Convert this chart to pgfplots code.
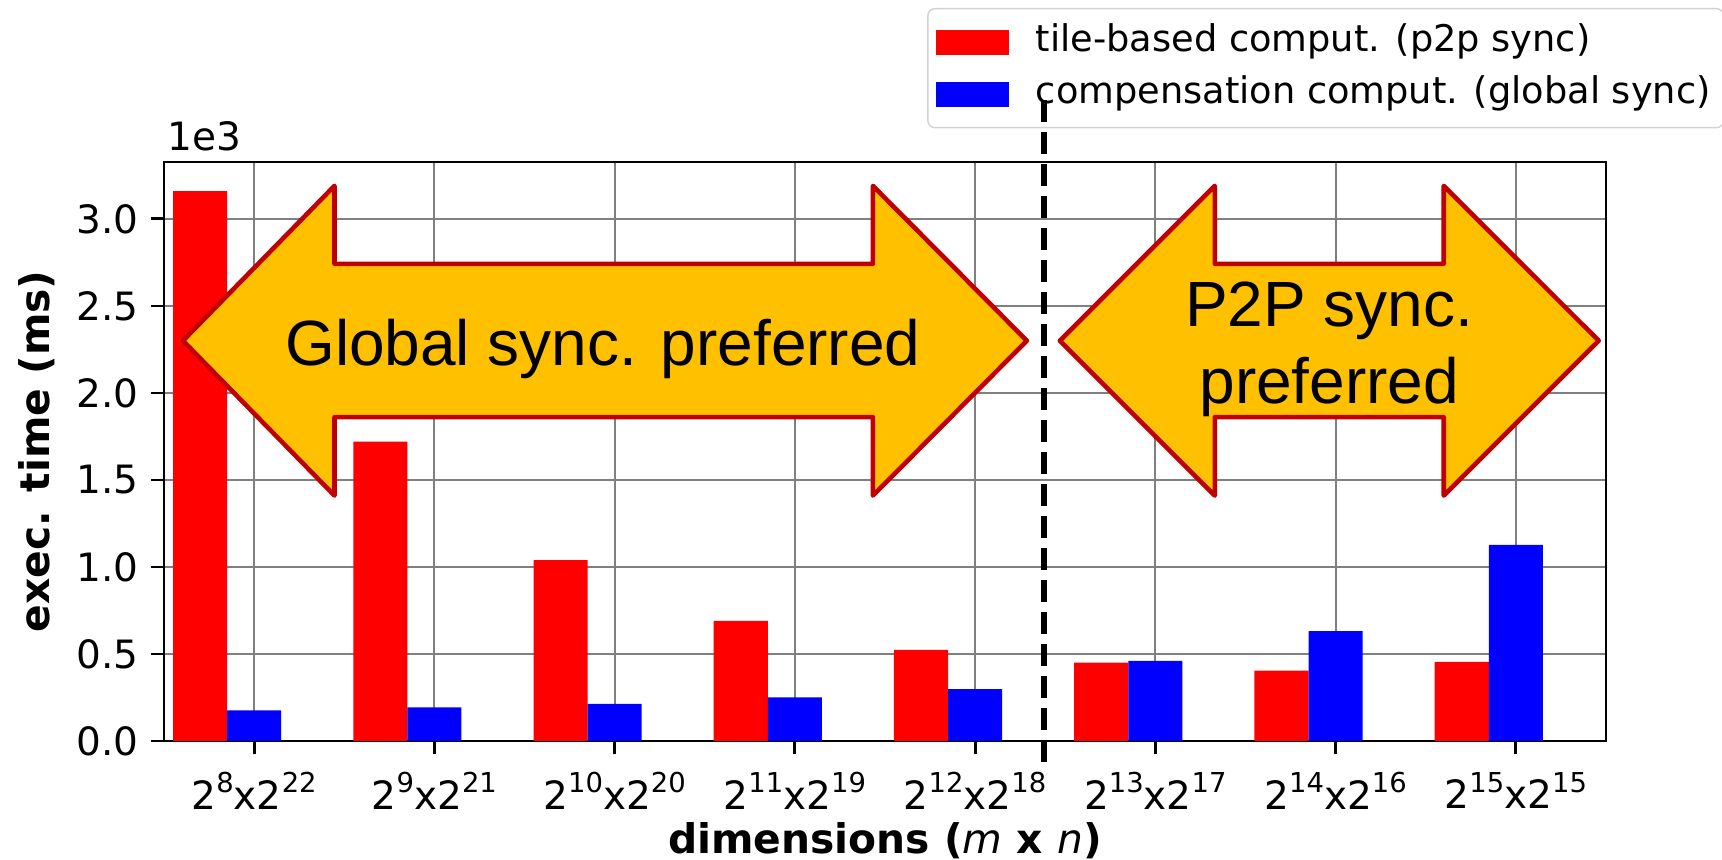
\documentclass[border=0pt]{standalone}
\usepackage{fontspec}
\setmainfont{DejaVu Sans}
\newfontfamily\arialf{Liberation Sans}
\usepackage{pgfplots}
\pgfplotsset{compat=1.18}
\definecolor{arrowfill}{HTML}{FFC000}
\definecolor{arrowdraw}{HTML}{C00000}
\newcommand\sx[1]{\raisebox{0.42em}{\fontsize{7.8}{9}\selectfont #1}}
\newcommand\tl[2]{2\sx{#1}x2\sx{#2}}
\begin{document}
\begin{tikzpicture}
\begin{axis}[
  scale only axis, width=144.2mm, height=57.9mm,
  xmin=-0.5, xmax=7.5, ymin=0, ymax=3.327,
  xtick={0,1,2,3,4,5,6,7},
  xticklabels={\tl{8}{22},\tl{9}{21},\tl{10}{20},\tl{11}{19},\tl{12}{18},\tl{13}{17},\tl{14}{16},\tl{15}{15}},
  xticklabel style={yshift=-0.6mm},
  ytick={0,0.5,1,1.5,2,2.5,3},
  yticklabel style={/pgf/number format/fixed, /pgf/number format/fixed zerofill, /pgf/number format/precision=1},
  /pgf/number format/assume math mode=true,
  tick align=outside, tick pos=left, major tick length=3.7pt,
  tick style={black, line width=0.8pt},
  ticklabel style={font=\fontsize{11.1}{13}\selectfont},
  grid=major, major grid style={gray, line width=0.6pt},
  axis line style={line width=0.8pt},
  clip=false,
  xlabel={\textbf{dimensions (}\textit{m}\textbf{ x }\textit{n}\textbf{)}},
  xlabel style={at={(axis description cs:0.5,-0.195)}, anchor=base, font=\fontsize{11.6}{13}\selectfont},
  ylabel={\textbf{exec. time (ms)}},
  ylabel style={at={(axis description cs:-0.0885,0.5)}, anchor=center, font=\fontsize{11.6}{13}\selectfont},
  legend style={at={(axis description cs:1.082,1.266)}, anchor=north east,
    draw=gray!35, rounded corners=2pt, fill=white,
    inner xsep=0.8mm, inner ysep=0.75mm,
    font=\fontsize{10.45}{12}\selectfont,
    cells={anchor=west},
    nodes={inner xsep=0.5mm, inner ysep=0.9mm, text height=2.6mm, text depth=0.8mm}},
]
\addplot[ybar, bar width=0.3, bar shift=-0.3, fill=red, draw=none,
  legend image code/.code={\fill[red, sharp corners] (0mm,-1.25mm) rectangle (7.3mm,1.25mm); \path (9.5mm,0);}]
  coordinates {(0,3.16) (1,1.72) (2,1.04) (3,0.69) (4,0.523) (5,0.45) (6,0.405) (7,0.455)};
\addlegendentry{tile-based comput. (p2p sync)}
\addplot[ybar, bar width=0.3, bar shift=0, fill=blue, draw=none,
  legend image code/.code={\fill[blue, sharp corners] (0mm,-1.25mm) rectangle (7.3mm,1.25mm); \path (9.5mm,0);}]
  coordinates {(0,0.176) (1,0.193) (2,0.213) (3,0.25) (4,0.298) (5,0.46) (6,0.632) (7,1.127)};
\addlegendentry{compensation comput. (global sync)}

\filldraw[fill=arrowfill, draw=arrowdraw, line width=1.3pt, line join=round]
  (axis cs:-0.395,2.30) -- (axis cs:0.446,3.19) -- (axis cs:0.446,2.742) -- (axis cs:3.433,2.742)
  -- (axis cs:3.433,3.19) -- (axis cs:4.287,2.30) -- (axis cs:3.433,1.41) -- (axis cs:3.433,1.861)
  -- (axis cs:0.446,1.861) -- (axis cs:0.446,1.41) -- cycle;
\filldraw[fill=arrowfill, draw=arrowdraw, line width=1.3pt, line join=round]
  (axis cs:4.47,2.30) -- (axis cs:5.33,3.19) -- (axis cs:5.33,2.742) -- (axis cs:6.60,2.742)
  -- (axis cs:6.60,3.19) -- (axis cs:7.46,2.30) -- (axis cs:6.60,1.41) -- (axis cs:6.60,1.861)
  -- (axis cs:5.33,1.861) -- (axis cs:5.33,1.41) -- cycle;
\node[anchor=base, font=\arialf\fontsize{18.2}{22}\selectfont] at (axis cs:1.935,2.158) {Global sync. preferred};
\node[anchor=base, font=\arialf\fontsize{18.2}{22}\selectfont] at (axis cs:5.965,2.382) {P2P sync.};
\node[anchor=base, font=\arialf\fontsize{18.2}{22}\selectfont] at (axis cs:5.965,1.942) {preferred};
\node[anchor=base west, inner sep=0pt, font=\fontsize{11.1}{13}\selectfont] at (axis description cs:0.002,1.0207) {1e3};
\end{axis}
\draw[line width=1.7pt, dash pattern=on 6.3pt off 2.8pt] (88.0mm,64.1mm) -- (88.0mm,-2.4mm);
\pgfresetboundingbox
\path[use as bounding box] (-16.4mm,-11.9mm) rectangle (155.8mm,74.1mm);
\end{tikzpicture}
\end{document}
